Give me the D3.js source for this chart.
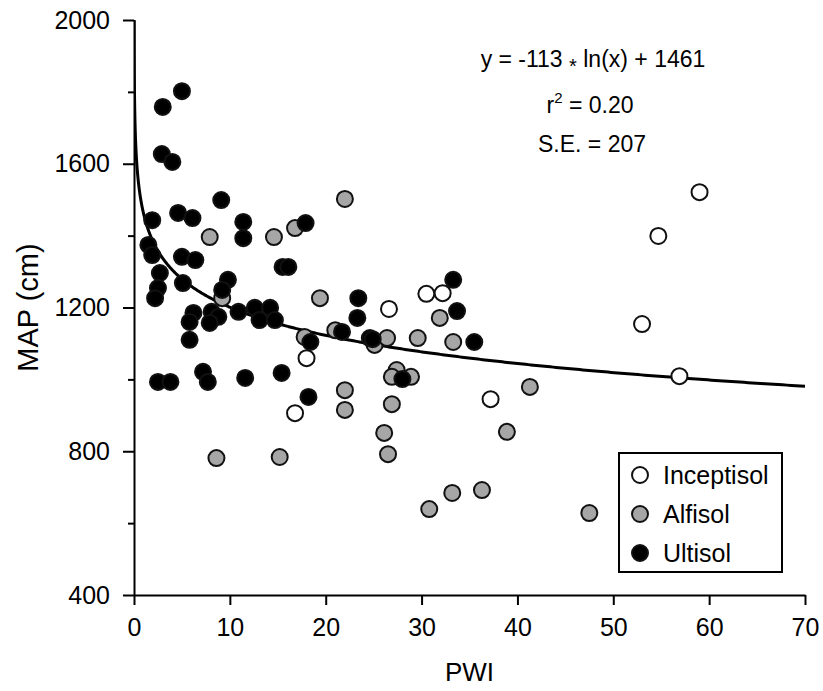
<!DOCTYPE html>
<meta charset="utf-8">
<html>
<head>
<script src="https://d3js.org/d3.v7.min.js"></script>
<style>
  body { margin: 0; background: #fff; }
  text { font-family: "Liberation Sans", Arial, sans-serif; fill: #000; }
</style>
</head>
<body>
<svg id="chart" width="823" height="691"></svg>
<script>

// PWI / MAP values by soil order
var inceptisol = [
  [26.6, 1196], [30.5, 1238], [32.2, 1240], [18.0, 1059], [16.8, 906],
  [37.2, 945], [59.0, 1521], [54.7, 1399], [53.0, 1154], [56.9, 1009]
];
var alfisol = [
  [7.9, 1396], [9.2, 1226], [22.0, 1502], [16.8, 1421], [14.6, 1396],
  [19.4, 1226], [21.0, 1137], [25.1, 1096], [26.4, 1115], [17.8, 1118],
  [22.0, 970], [22.0, 915], [29.6, 1115], [31.9, 1171], [33.3, 1104],
  [27.4, 1026], [26.9, 1007], [28.9, 1007], [26.9, 931], [26.1, 851],
  [38.9, 854], [26.5, 792], [33.2, 684], [36.3, 692], [30.8, 639],
  [41.3, 979], [47.5, 628], [8.6, 781], [15.2, 784]
];
var ultisol = [
  [5.0, 1802], [3.0, 1758], [2.9, 1627], [4.0, 1605], [9.1, 1499],
  [1.9, 1443], [4.6, 1463], [6.1, 1449], [11.4, 1438], [11.4, 1393],
  [17.9, 1435], [1.5, 1374], [1.9, 1346], [5.0, 1341], [6.4, 1332],
  [9.8, 1277], [2.7, 1296], [5.1, 1268], [2.5, 1254], [2.2, 1226],
  [9.2, 1249], [6.2, 1185], [5.8, 1160], [8.1, 1188], [8.8, 1174],
  [7.9, 1157], [10.9, 1188], [12.6, 1199], [14.2, 1199], [13.1, 1165],
  [14.7, 1165], [5.8, 1110], [2.5, 993], [3.8, 993], [7.2, 1021],
  [7.7, 993], [11.6, 1004], [15.5, 1313], [16.1, 1313], [23.4, 1226],
  [23.3, 1171], [21.7, 1132], [24.6, 1115], [18.4, 1104], [15.4, 1018],
  [18.2, 951], [33.3, 1277], [33.7, 1190], [24.9, 1112], [35.5, 1104],
  [28.0, 1001]
];
var xTicks = [0, 10, 20, 30, 40, 50, 60, 70];
var yTicks = [400, 800, 1200, 1600, 2000];
var yMinor = [600, 1000, 1400, 1800];
var fit = { a: -113, b: 1461 };

var svg = d3.select("#chart");
var margin = { left: 134, right: 18, top: 20, bottom: 96 };
var width = 823 - margin.left - margin.right,
    height = 691 - margin.top - margin.bottom;

var g = svg.append("g").attr("transform", "translate(" + margin.left + "," + margin.top + ")");

var x = d3.scaleLinear().domain([0, 70]).range([0, width]);
var y = d3.scaleLinear().domain([400, 2000]).range([height, 0]);

// axes
g.append("g")
  .attr("transform", "translate(0," + height + ")")
  .call(d3.axisBottom(x).tickValues(xTicks).tickFormat(d3.format("d"))
    .tickSize(10).tickSizeOuter(0).tickPadding(13));
g.append("g")
  .call(d3.axisLeft(y).tickValues(yTicks).tickFormat(d3.format("d"))
    .tickSize(11).tickSizeOuter(0).tickPadding(13));
g.append("g")
  .call(d3.axisLeft(y).tickValues(yMinor).tickSize(6).tickFormat(""))
  .select(".domain").remove();

g.selectAll(".domain, .tick line").attr("stroke", "#000").attr("stroke-width", 2);
g.selectAll(".tick text").style("font-size", "25px").attr("fill", "#000");

// axis titles
g.append("text")
  .attr("x", width / 2).attr("y", height + 86)
  .attr("text-anchor", "middle").style("font-size", "26px")
  .text("PWI");
g.append("text")
  .attr("transform", "translate(" + (-96) + "," + (height / 2) + ") rotate(-90)")
  .attr("text-anchor", "middle").style("font-size", "29px")
  .text("MAP (cm)");

// regression curve
var curveData = d3.range(0, 1401).map(function(i) { return 0.005 * Math.pow(70 / 0.005, i / 1400); });
g.append("clipPath").attr("id", "clip")
  .append("rect").attr("width", width).attr("height", height);
g.append("path")
  .datum(curveData)
  .attr("clip-path", "url(#clip)")
  .attr("fill", "none").attr("stroke", "#000").attr("stroke-width", 3)
  .attr("d", d3.line()
    .x(function(d) { return x(d); })
    .y(function(d) { return y(fit.a * Math.log(d) + fit.b); }));

// points
var series = [
  { name: "Inceptisol", data: inceptisol, fill: "#ffffff" },
  { name: "Alfisol", data: alfisol, fill: "#a6a6a6" },
  { name: "Ultisol", data: ultisol, fill: "#000000" }
];
series.forEach(function(s) {
  g.append("g").selectAll("circle")
    .data(s.data).enter().append("circle")
      .attr("cx", function(d) { return x(d[0]); })
      .attr("cy", function(d) { return y(d[1]); })
      .attr("r", 8)
      .attr("fill", s.fill)
      .attr("stroke", "#111").attr("stroke-width", 2);
});

// equation text
var eqX = 593 - margin.left;
var eq = g.append("g").attr("text-anchor", "middle").style("font-size", "23px");
var l1 = eq.append("text").attr("x", eqX).attr("y", 47);
l1.append("tspan").text("y = -113 ");
l1.append("tspan").attr("dy", 6).style("font-size", "20px").text("*");
l1.append("tspan").attr("dy", -6).text(" ln(x) + " + fit.b);
var r2 = eq.append("text").attr("x", eqX - 3).attr("y", 93);
r2.append("tspan").text("r");
r2.append("tspan").attr("dy", -10).style("font-size", "15px").text("2");
r2.append("tspan").attr("dy", 10).text(" = 0.20");
eq.append("text").attr("x", eqX - 1).attr("y", 132).text("S.E. = 207");

// legend
var leg = g.append("g").attr("transform", "translate(" + (619 - margin.left) + "," + (453 - margin.top) + ")");
leg.append("rect").attr("width", 163).attr("height", 119)
  .attr("fill", "#fff").attr("stroke", "#000").attr("stroke-width", 2);
series.forEach(function(s, i) {
  leg.append("circle").attr("cx", 21).attr("cy", 22 + i * 39).attr("r", 8)
    .attr("fill", s.fill).attr("stroke", "#111").attr("stroke-width", 2);
  leg.append("text").attr("x", 44).attr("y", 31 + i * 39)
    .style("font-size", "25px").text(s.name);
});

</script>
</body>
</html>
